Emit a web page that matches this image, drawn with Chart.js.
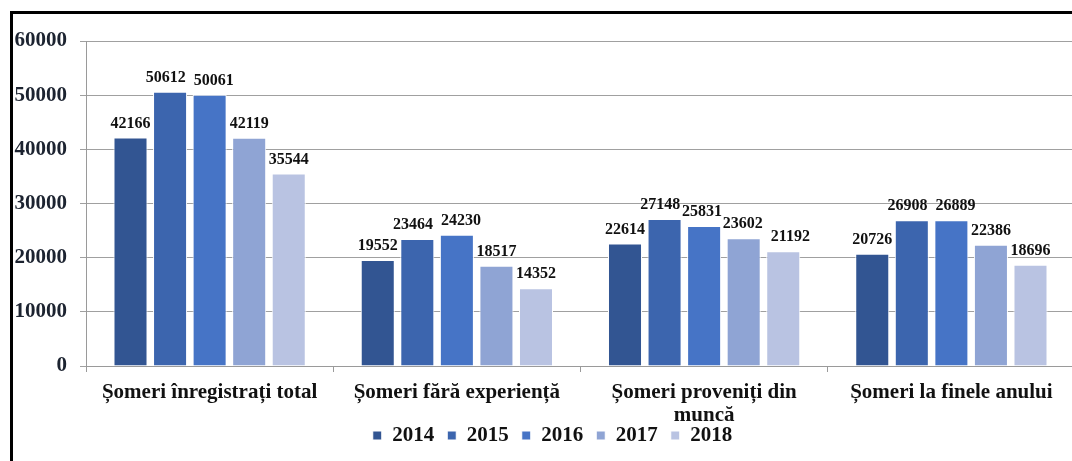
<!DOCTYPE html>
<html>
<head>
<meta charset="utf-8">
<script src="https://cdn.jsdelivr.net/npm/chart.js@4"></script>
<style>
  html, body { margin: 0; padding: 0; background: #fff; overflow: hidden; width: 1072px; height: 461px; }
  #frame { position: absolute; left: 10px; top: 11px; width: 1100px; height: 470px; border-left: 3px solid #000; border-top: 3px solid #000; }
  #chart { position: absolute; left: 0; top: 0; }
</style>
</head>
<body>
<div id="frame"></div>
<canvas id="chart" width="1100" height="461"></canvas>
<script>
const categories = ['Șomeri înregistrați total', 'Șomeri fără experiență', ['Șomeri proveniți din', 'muncă'], 'Șomeri la finele anului'];
const years = ['2014', '2015', '2016', '2017', '2018'];
const values2014 = [42166, 19552, 22614, 20726];
const values2015 = [50612, 23464, 27148, 26908];
const values2016 = [50061, 24230, 25831, 26889];
const values2017 = [42119, 18517, 23602, 22386];
const values2018 = [35544, 14352, 21192, 18696];
const yearColors = ['#325592', '#3c65ae', '#4674c6', '#8fa4d4', '#b9c3e2'];

const serif = '"Liberation Serif", "Times New Roman", serif';
const allValues = [values2014, values2015, values2016, values2017, values2018];

// value labels above bars, pushed apart a little when two neighbours collide
const barLabels = {
    id: 'barLabels',
    afterDatasetsDraw(chart) {
        const ctx = chart.ctx;
        ctx.save();
        ctx.font = 'bold 16px ' + serif;
        ctx.fillStyle = '#111';
        ctx.textAlign = 'center';
        ctx.textBaseline = 'bottom';
        const n = chart.data.datasets.length;
        chart.data.labels.forEach((c, j) => {
            const items = [];
            for (let i = 0; i < n; i++) {
                const bar = chart.getDatasetMeta(i).data[j];
                const txt = String(chart.data.datasets[i].data[j]);
                items.push({ txt, x: bar.x, y: bar.y - 6, w: ctx.measureText(txt).width });
            }
            for (let i = 0; i < n - 1; i++) {
                const a = items[i], b = items[i + 1];
                if (Math.abs(a.y - b.y) < 16) {
                    const overlap = (a.w + b.w) / 2 + 8 - (b.x - a.x);
                    if (overlap > 0) { a.x -= overlap / 2; b.x += overlap / 2; }
                }
            }
            items.forEach(it => ctx.fillText(it.txt, it.x, it.y));
        });
        ctx.restore();
    }
};

// let the wrapped category label run into the legend band, and centre the legend like the original
const layoutTweak = {
    id: 'layoutTweak',
    afterLayout(chart) {
        chart.scales.x.bottom = chart.height;
        chart.legend.left += 15;
        chart.legend.right += 15;
    }
};

new Chart(document.getElementById('chart'), {
    type: 'bar',
    data: {
        labels: categories,
        datasets: years.map((y, i) => ({
            label: y,
            data: allValues[i],
            backgroundColor: yearColors[i],
            borderColor: '#ffffff',
            borderWidth: 1,
            categoryPercentage: 0.8,
            barPercentage: 0.86
        }))
    },
    options: {
        responsive: false,
        animation: false,
        layout: { padding: { left: 0, right: 25, top: 41, bottom: 5 } },
        plugins: {
            tooltip: { enabled: false },
            legend: {
                position: 'bottom',
                labels: { boxWidth: 9, boxHeight: 9, padding: 13, color: '#111', font: { family: serif, size: 21, weight: 'bold' } }
            }
        },
        scales: {
            x: {
                grid: { drawOnChartArea: false, offset: true, tickLength: 6, color: '#9a9a9a' },
                border: { color: '#9a9a9a' },
                ticks: { padding: 9, color: '#111', maxRotation: 0, autoSkip: false, font: { family: serif, size: 21, weight: 'bold', lineHeight: 1.1 } },
                afterFit: s => { s.height = 46; }
            },
            y: {
                min: 0, max: 60000,
                grid: { color: '#a0a0a0', tickLength: 6 },
                border: { color: '#9a9a9a' },
                ticks: { stepSize: 10000, padding: 13, color: '#1c2330', callback: v => String(v), font: { family: serif, size: 21, weight: 'bold' } },
                afterFit: s => { s.width = 86; }
            }
        }
    },
    plugins: [barLabels, layoutTweak]
});
</script>
</body>
</html>
